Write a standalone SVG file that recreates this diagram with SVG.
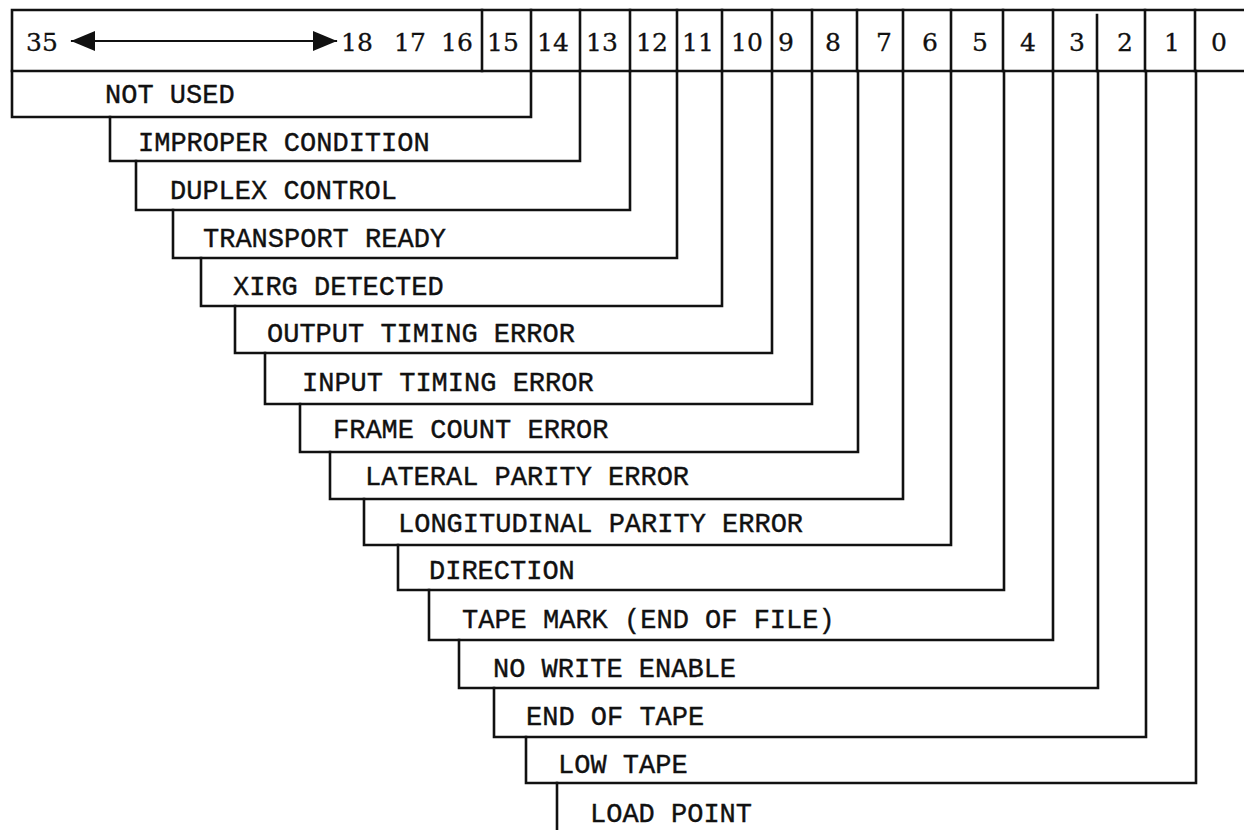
<svg xmlns="http://www.w3.org/2000/svg" width="1244" height="830" viewBox="0 0 1244 830">
<style>
.ln{fill:none;stroke:#111;stroke-width:2.6;stroke-linejoin:miter;stroke-linecap:square}
.num{font-family:"DejaVu Serif","Liberation Serif",serif;font-size:25px;fill:#111;stroke:#111;stroke-width:0.3;text-anchor:middle}
.lbl{font-family:"Liberation Mono","DejaVu Sans Mono",monospace;font-size:27px;fill:#111;stroke:#111;stroke-width:0.4}
</style>
<defs>
<marker id="ah" viewBox="0 0 24 20" refX="23" refY="10" markerWidth="24" markerHeight="20" markerUnits="userSpaceOnUse" orient="auto-start-reverse">
<path d="M0,0 L24,10 L0,20 Z" fill="#111"/>
</marker>
</defs>
<rect width="1244" height="830" fill="#fff"/>
<g id="header">
<path class="ln" d="M12,10 H1250 M12,71 H1250 M12,10 V71"/>
<path class="ln" d="M482,10 V71 M531,10 V71 M580,10 V71 M630,10 V71 M677,10 V71 M722,10 V71 M772,10 V71 M812,10 V71 M857,10 V71 M903,10 V71 M951,10 V71 M1003,10 V71 M1053,10 V71 M1097,15 V71 M1145,10 V71 M1195,10 V71"/>
<text class="num" x="42" y="51">35</text>
<text class="num" x="357" y="51">18</text>
<text class="num" x="410" y="51">17</text>
<text class="num" x="457" y="51">16</text>
<text class="num" x="503" y="51">15</text>
<text class="num" x="553" y="51">14</text>
<text class="num" x="602" y="51">13</text>
<text class="num" x="652" y="51">12</text>
<text class="num" x="698" y="51">11</text>
<text class="num" x="747" y="51">10</text>
<text class="num" x="786" y="51">9</text>
<text class="num" x="833" y="51">8</text>
<text class="num" x="884" y="51">7</text>
<text class="num" x="930" y="51">6</text>
<text class="num" x="980" y="51">5</text>
<text class="num" x="1028" y="51">4</text>
<text class="num" x="1077" y="51">3</text>
<text class="num" x="1125" y="51">2</text>
<text class="num" x="1172" y="51">1</text>
<text class="num" x="1219" y="51">0</text>
</g>
<g id="connectors">
<line class="ln" x1="72" y1="41" x2="336" y2="41" style="stroke-width:2.2" marker-start="url(#ah)" marker-end="url(#ah)"/>
</g>
<g id="f-not-used"><path class="ln" d="M12,71 V117 H531 V71"/><text class="lbl" x="105" y="103">NOT USED</text></g>
<g id="f-improper"><path class="ln" d="M110,117 V161 H580 V71"/><text class="lbl" x="138" y="151">IMPROPER CONDITION</text></g>
<g id="f-duplex"><path class="ln" d="M136,161 V210 H630 V71"/><text class="lbl" x="170" y="199">DUPLEX CONTROL</text></g>
<g id="f-transport"><path class="ln" d="M173,210 V258 H677 V71"/><text class="lbl" x="203" y="247">TRANSPORT READY</text></g>
<g id="f-xirg"><path class="ln" d="M201,258 V306 H722 V71"/><text class="lbl" x="233" y="295">XIRG DETECTED</text></g>
<g id="f-output"><path class="ln" d="M235,306 V353 H772 V71"/><text class="lbl" x="267" y="342">OUTPUT TIMING ERROR</text></g>
<g id="f-input"><path class="ln" d="M265,353 V404 H812 V71"/><text class="lbl" x="302" y="391">INPUT TIMING ERROR</text></g>
<g id="f-frame"><path class="ln" d="M300,404 V452 H858 V71"/><text class="lbl" x="333" y="438">FRAME COUNT ERROR</text></g>
<g id="f-lateral"><path class="ln" d="M330,452 V499 H903 V71"/><text class="lbl" x="365" y="485">LATERAL PARITY ERROR</text></g>
<g id="f-longitudinal"><path class="ln" d="M364,499 V545 H951 V71"/><text class="lbl" x="398" y="532">LONGITUDINAL PARITY ERROR</text></g>
<g id="f-direction"><path class="ln" d="M398,545 V590 H1004 V71"/><text class="lbl" x="429" y="579">DIRECTION</text></g>
<g id="f-tape-mark"><path class="ln" d="M429,590 V640 H1053 V71"/><text class="lbl" x="462" y="628">TAPE MARK (END OF FILE)</text></g>
<g id="f-no-write"><path class="ln" d="M459,640 V688 H1098 V71"/><text class="lbl" x="493" y="677">NO WRITE ENABLE</text></g>
<g id="f-end-of-tape"><path class="ln" d="M494,688 V737 H1146 V71"/><text class="lbl" x="526" y="725">END OF TAPE</text></g>
<g id="f-low-tape"><path class="ln" d="M526,737 V783 H1196 V71"/><text class="lbl" x="558" y="773">LOW TAPE</text></g>
<g id="f-load-point"><path class="ln" d="M557,783 V832"/><text class="lbl" x="590" y="822">LOAD POINT</text></g>
</svg>
